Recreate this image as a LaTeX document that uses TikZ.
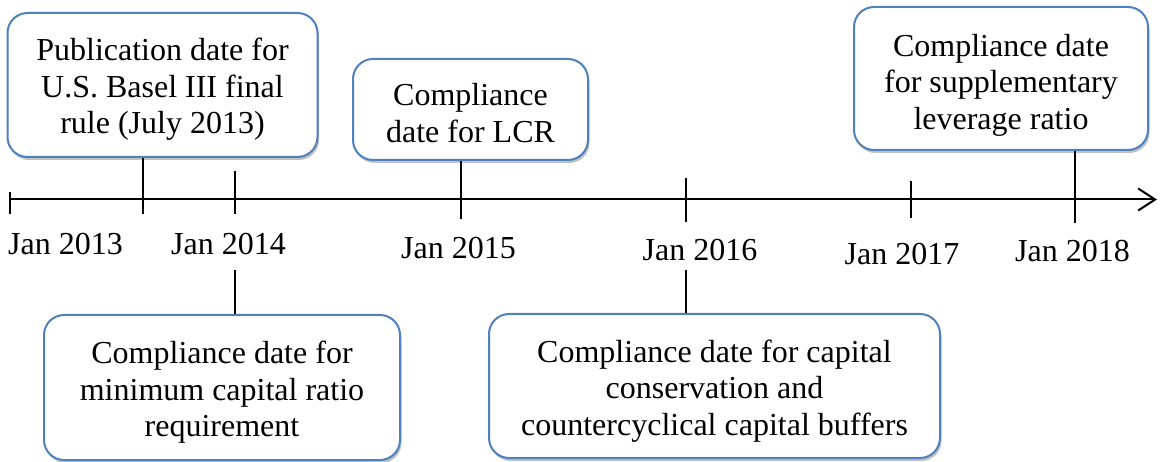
\documentclass[tikz,border=0pt]{standalone}
\usepackage{fontspec}
\setmainfont{Liberation Serif}
\usetikzlibrary{arrows.meta,shadows}
\definecolor{boxblue}{RGB}{79,129,189}
\newcommand{\topstrut}[1]{\rule{0pt}{#1pt}}
\tikzset{
  evbox/.style={draw=boxblue, line width=2pt, fill=white, rounded corners=20pt,
    align=center, inner sep=0pt, font=\fontsize{32}{36.5}\selectfont,
    drop shadow={shadow xshift=1.5pt, shadow yshift=-3pt, opacity=0.35, fill=black!70}},
  datelbl/.style={anchor=base, inner sep=0pt, font=\fontsize{32}{36.5}\selectfont},
  tickline/.style={draw=black, line width=2pt},
  axisline/.style={draw=black, line width=2pt, -{Straight Barb[length=17pt,width=22pt,line width=2pt]}}
}
\begin{document}
\begin{tikzpicture}[x=1pt,y=-1pt]
\useasboundingbox (0,0) rectangle (1160,462);
% boxes
\node[evbox, minimum width=310pt, minimum height=144pt] (b1) at (162.5,85)
  {\topstrut{31}Publication date for\\U.S. Basel III final\\rule (July 2013)};
\node[evbox, minimum width=235pt, minimum height=101pt] (b2) at (470.5,109.5)
  {\topstrut{29}Compliance\\date for LCR};
\node[evbox, minimum width=294pt, minimum height=143pt] (b3) at (1001,78.5)
  {\topstrut{35}Compliance date\\for supplementary\\leverage ratio};
\node[evbox, minimum width=356pt, minimum height=145pt] (b4) at (222,387.5)
  {\topstrut{32}Compliance date for\\minimum capital ratio\\requirement};
\node[evbox, minimum width=451pt, minimum height=144pt] (b5) at (714.5,386)
  {\topstrut{32}Compliance date for capital\\conservation and\\countercyclical capital buffers};
% coordinates
\coordinate (ax0) at (10,199.5);
\coordinate (axE) at (1157,199.5);
\coordinate (s0a) at (10,192);
\coordinate (s0b) at (10,214);
\coordinate (t13) at (143,214);
\coordinate (t14a) at (235,171);
\coordinate (t14b) at (235,214);
\coordinate (t14c) at (235,270);
\coordinate (t15) at (461,219);
\coordinate (t16a) at (686,178);
\coordinate (t16b) at (686,222);
\coordinate (t16c) at (686,270);
\coordinate (t17a) at (911,181);
\coordinate (t17b) at (911,218);
\coordinate (t18) at (1075,223);
% axis
\draw[axisline] (ax0) -- (axE);
\draw[tickline] (s0a) -- (s0b);
\draw[tickline] (b1.south -| t13) -- (t13);
\draw[tickline] (t14a) -- (t14b);
\draw[tickline] (t14c) -- (b4.north -| t14c);
\draw[tickline] (b2.south -| t15) -- (t15);
\draw[tickline] (t16a) -- (t16b);
\draw[tickline] (t16c) -- (b5.north -| t16c);
\draw[tickline] (t17a) -- (t17b);
\draw[tickline] (b3.south -| t18) -- (t18);
% labels
\node[datelbl] (l13) at (65.5,255) {Jan 2013};
\node[datelbl] (l14) at (228.5,255) {Jan 2014};
\node[datelbl] (l15) at (458.5,259) {Jan 2015};
\node[datelbl] (l16) at (700,261) {Jan 2016};
\node[datelbl] (l17) at (902,265) {Jan 2017};
\node[datelbl] (l18) at (1072.5,262) {Jan 2018};
\end{tikzpicture}
\end{document}
